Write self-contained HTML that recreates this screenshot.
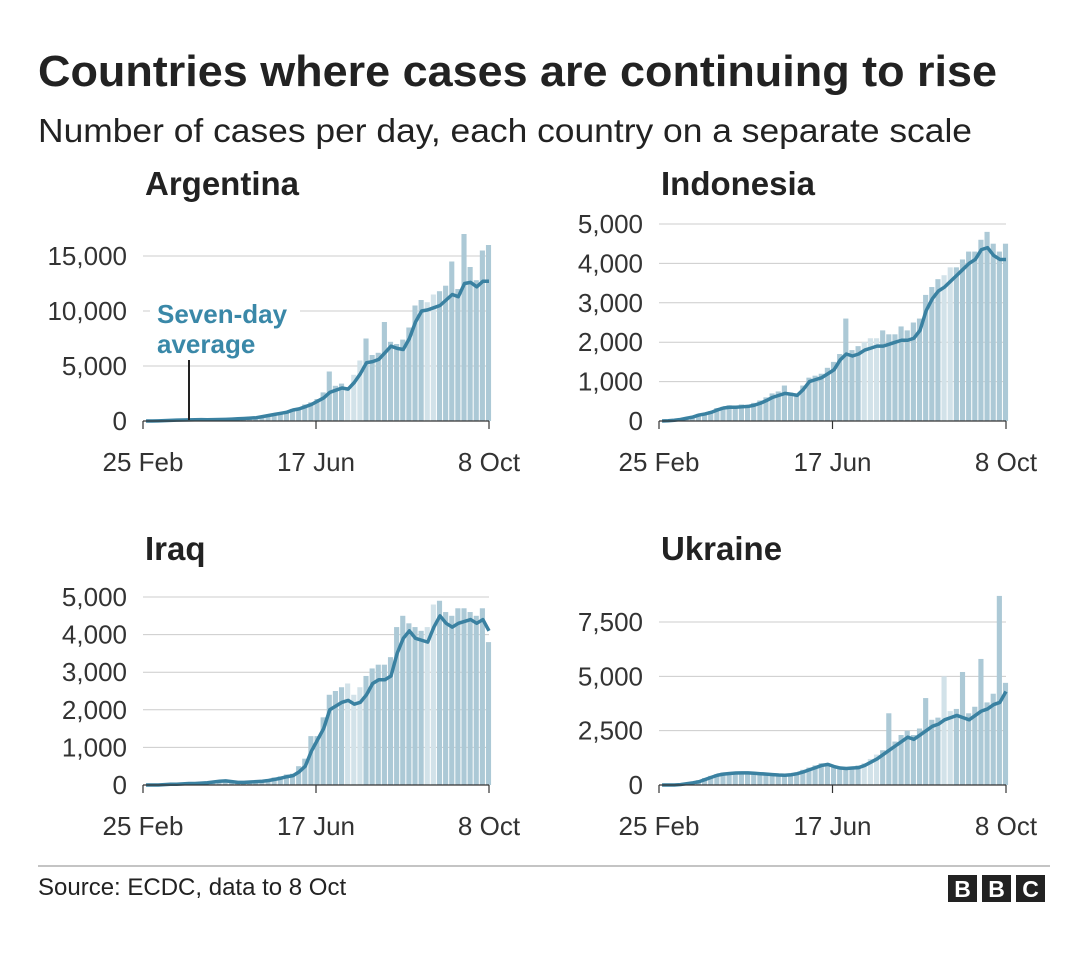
<!DOCTYPE html>
<html><head><meta charset="utf-8"><style>
body{margin:0;background:#fff;font-family:"Liberation Sans",sans-serif;}
#wrap{position:relative;width:1080px;height:948px;}
</style></head><body>
<div id="wrap">
<svg id="svg" width="1080" height="948" xmlns="http://www.w3.org/2000/svg" font-family="Liberation Sans, sans-serif">
<text x="38" y="86" font-size="44" font-weight="bold" fill="#222" textLength="959" lengthAdjust="spacingAndGlyphs">Countries where cases are continuing to rise</text>
<text x="38" y="142" font-size="33" fill="#222" textLength="934" lengthAdjust="spacingAndGlyphs">Number of cases per day, each country on a separate scale</text>
<line x1="38" y1="866" x2="1050" y2="866" stroke="#888" stroke-width="1"/>
<text x="38" y="895" font-size="24" fill="#222">Source: ECDC, data to 8 Oct</text>
<g>
<rect x="948" y="875" width="29" height="27" fill="#222"/><rect x="982" y="875" width="29" height="27" fill="#222"/><rect x="1016" y="875" width="29" height="27" fill="#222"/>
<text x="962.5" y="897" font-size="23" font-weight="bold" fill="#fff" text-anchor="middle">B</text>
<text x="996.5" y="897" font-size="23" font-weight="bold" fill="#fff" text-anchor="middle">B</text>
<text x="1030.5" y="897" font-size="23" font-weight="bold" fill="#fff" text-anchor="middle">C</text>
</g>
</svg>
</div>
<script>
const days=[0,4,8,12,16,20,24,28,32,36,40,44,48,52,56,60,64,68,72,76,80,84,88,92,96,100,104,108,112,116,120,124,128,132,136,140,144,148,152,156,160,164,168,172,176,180,184,188,192,196,200,204,208,212,216,220,224];
const xTickLabels=["25 Feb","17 Jun","8 Oct"];
const xTickDays=[0,113,226];
const argAvg=[0,0,10,30,60,80,90,100,110,120,110,120,140,150,170,200,230,260,300,400,500,600,700,800,1000,1100,1300,1500,1800,2100,2600,2800,3000,2900,3500,4300,5300,5400,5600,6200,6800,6600,6500,7500,9000,10000,10100,10300,10500,11000,11500,11300,12500,12600,12200,12700,12700];
const argBars=[0,0,20,40,70,90,80,110,130,100,120,140,150,160,190,220,260,280,350,450,560,650,800,900,1100,1200,1500,1700,2000,2600,4500,3200,3400,3000,4200,5500,7500,6000,6200,9000,7200,7000,7400,8500,10500,11000,10800,11500,11800,12300,14500,12000,17000,14000,12800,15500,16000];
const argTicks=[0,5000,10000,15000];
const indAvg=[0,5,20,40,70,100,150,180,220,280,330,350,350,360,370,400,450,520,600,650,700,680,650,800,1000,1050,1100,1200,1300,1550,1700,1650,1700,1800,1850,1900,1900,1950,2000,2050,2050,2100,2300,2800,3100,3300,3400,3550,3700,3850,4000,4100,4350,4400,4200,4100,4100];
const indBars=[0,10,30,60,90,130,180,200,250,330,360,400,380,420,400,460,520,600,700,750,900,720,700,900,1100,1150,1200,1350,1500,1700,2600,1800,1900,2000,2100,2100,2300,2200,2200,2400,2300,2500,2600,3200,3400,3600,3700,3900,3900,4100,4300,4300,4600,4800,4500,4300,4500];
const indTicks=[0,1000,2000,3000,4000,5000];
const iraAvg=[0,0,0,10,20,20,30,40,40,50,60,80,100,110,90,70,70,80,90,100,120,150,180,220,250,350,500,900,1200,1500,2000,2100,2200,2250,2150,2200,2400,2700,2800,2800,2900,3500,3900,4100,3900,3850,3800,4200,4500,4300,4200,4300,4350,4400,4300,4400,4100];
const iraBars=[0,0,10,20,30,30,40,50,60,70,80,110,130,120,100,80,90,100,110,130,160,200,230,280,300,500,700,1300,1300,1800,2400,2500,2600,2700,2400,2600,2900,3100,3200,3200,3400,4200,4500,4300,4200,4100,4200,4800,4900,4600,4500,4700,4700,4600,4500,4700,3800];
const iraTicks=[0,1000,2000,3000,4000,5000];
const ukrAvg=[0,0,0,20,60,100,150,250,350,450,500,530,550,560,560,540,520,500,480,460,450,470,520,600,700,800,900,950,850,780,760,780,800,900,1050,1200,1400,1600,1800,2000,2200,2100,2300,2500,2700,2800,3000,3100,3200,3100,3000,3200,3400,3500,3700,3800,4300];
const ukrBars=[0,0,10,40,90,150,220,320,420,500,580,560,600,620,580,560,560,520,520,500,480,520,580,700,800,900,1000,1000,900,820,800,850,900,1000,1200,1400,1600,3300,2000,2300,2500,2300,2600,4000,3000,3100,5000,3400,3500,5200,3300,3600,5800,3800,4200,8700,4700];
const ukrTicks=[0,2500,5000,7500];

const svg=document.getElementById('svg');
const NS='http://www.w3.org/2000/svg';
function mk(tag,attrs,parent){const e=document.createElementNS(NS,tag);for(const k in attrs)e.setAttribute(k,attrs[k]);(parent||svg).appendChild(e);return e;}

function panel(name,title,avg,bars,ticks,x0,x1,y0,yTop,maxTick,titleY,yLabelX){
  const g=mk('g',{});
  
  
  const xs=d=>x0+(x1-x0)*d/226;
  const ys=v=>y0-(y0-yTop)*v/maxTick;
  const t=mk('text',{x:x0+2,y:titleY,'font-size':33,'font-weight':'bold',fill:'#222'},g);
  t.textContent=title;
  
  
  ticks.forEach(v=>{
    const l=mk('line',{x1:x0,x2:x1,y1:ys(v),y2:ys(v),stroke:v===0?'#555':'#ccc','stroke-width':1},g);
    
    
    const tx=mk('text',{x:yLabelX,y:ys(v)+9,'font-size':26,fill:'#333','text-anchor':'end'},g);
    tx.textContent=v.toLocaleString('en-US');
    
    
  });
  const bw=(x1-x0)*4/226;
  bars.forEach((v,i)=>{
    const light=(i>=33&&i<=35)||(i>=46&&i<=47);
    const r=mk('rect',{x:xs(days[i]),y:ys(v),width:Math.max(bw-1,1),height:y0-ys(v),fill:light?'#d2e2e9':'#acc9d6'},g);
    
    
  });
  const pts=avg.map((v,i)=>xs(days[i]+2)+','+ys(v)).join(' ');
  const pl=mk('polyline',{points:pts,fill:'none',stroke:'#3a81a1','stroke-width':3.5,'stroke-linejoin':'round'},g);
  
  
  mk('line',{x1:x0,x2:x1,y1:y0,y2:y0,stroke:'#333','stroke-width':1.2},g);
  xTickDays.forEach((d,i)=>{
    const tk=mk('line',{x1:xs(d),x2:xs(d),y1:y0,y2:y0+8,stroke:'#333','stroke-width':1.2},g);
    
    
    const tx=mk('text',{x:xs(d),y:y0+50,'font-size':26,fill:'#333','text-anchor':'middle'},g);
    tx.textContent=xTickLabels[i];
    
    
  });
  return g;
}
panel('argentina','Argentina',argAvg,argBars,argTicks,143,489,421,256,15000,195,127);
panel('indonesia','Indonesia',indAvg,indBars,indTicks,659,1006,421,224,5000,195,643);
panel('iraq','Iraq',iraAvg,iraBars,iraTicks,143,489,785,597,5000,560,127);
panel('ukraine','Ukraine',ukrAvg,ukrBars,ukrTicks,659,1006,785,622,7500,560,643);

const ann=mk('g',{});


mk('rect',{x:150,y:294,width:150,height:62,fill:'#fff'},ann);
const a1=mk('text',{x:157,y:323,'font-size':26,'font-weight':'bold',fill:'#3a88a8'},ann);a1.textContent='Seven-day';
const a2=mk('text',{x:157,y:353,'font-size':26,'font-weight':'bold',fill:'#3a88a8'},ann);a2.textContent='average';
mk('line',{x1:189,x2:189,y1:360,y2:420,stroke:'#222','stroke-width':2},ann);
</script>
</body></html>
